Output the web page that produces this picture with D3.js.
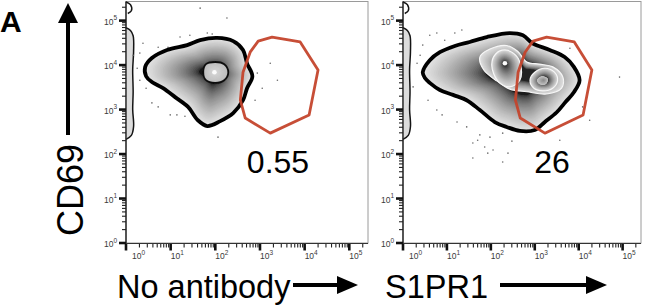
<!DOCTYPE html>
<html><head><meta charset="utf-8">
<script src="https://cdn.jsdelivr.net/npm/d3@7"></script>
<style>body{margin:0;background:#fff;} svg{display:block;font-family:"Liberation Sans", Arial, sans-serif;}</style>
</head><body><svg id="c" width="647" height="308"></svg>
<script>
// ---------- data (all vertices are [log10 X, log10 Y]) ----------
const axisMax = 262144;
const decades = [0, 1, 2, 3, 4, 5];
const panelTitles = ["No antibody", "S1PR1"];
const gatePercents = ["0.55", "26"];
const yTitle = "CD69";
const panelLetter = "A";

const gate = [[2.96,4.54],[3.27,4.63],[3.90,4.52],[4.30,3.89],[4.10,2.88],[3.23,2.47],[2.67,2.81],[2.56,3.21],[2.62,3.84],[2.78,4.29]];

const leftOuter = [[0.43,3.96],[0.58,4.16],[0.92,4.34],[1.37,4.45],[1.66,4.56],[2.04,4.61],[2.40,4.54],[2.62,4.34],[2.71,4.04],[2.83,3.75],[2.71,3.48],[2.62,3.21],[2.40,2.92],[2.11,2.74],[1.82,2.63],[1.61,2.76],[1.39,3.06],[1.10,3.28],[0.83,3.48],[0.58,3.62],[0.45,3.75]];
const leftInner = [[1.73,3.84],[1.79,4.02],[2.00,4.07],[2.20,4.02],[2.29,3.84],[2.20,3.66],[2.00,3.60],[1.79,3.66]];
const leftPeak = [1.98, 3.84];

const rightOuter = [[0.45,3.84],[0.61,4.11],[0.84,4.29],[1.18,4.43],[1.52,4.52],[1.91,4.63],[2.43,4.72],[2.73,4.67],[2.95,4.49],[3.34,4.34],[3.68,4.18],[3.89,3.96],[4.02,3.66],[3.89,3.39],[3.70,3.17],[3.50,2.94],[3.23,2.72],[3.00,2.54],[2.66,2.52],[2.36,2.61],[2.09,2.72],[1.75,2.99],[1.45,3.21],[1.14,3.33],[0.84,3.44],[0.61,3.60],[0.50,3.71]];
const rightMid = [[1.75,4.18],[1.98,4.36],[2.36,4.44],[2.61,4.31],[2.82,4.07],[3.11,4.02],[3.41,3.96],[3.64,3.73],[3.61,3.48],[3.27,3.35],[2.82,3.40],[2.43,3.46],[2.14,3.64],[1.84,3.89]];
const rightPeakA = [[2.32,4.34],[2.57,4.22],[2.68,4.00],[2.66,3.66],[2.43,3.51],[2.16,3.64],[2.02,4.00],[2.11,4.25]];
const rightPeakB = [[2.89,3.66],[3.00,3.84],[3.23,3.93],[3.45,3.84],[3.52,3.66],[3.41,3.48],[3.18,3.42],[2.98,3.48]];
const rightCoreB = [[3.05,3.66],[3.16,3.75],[3.30,3.69],[3.25,3.57],[3.11,3.57]];
const rightCenter = [2.75, 3.82];
const rightPeakAcenter = [2.32, 4.04];
const rightPeakBcenter = [3.20, 3.66];

const axisPile = [[0.0,4.84],[0.10,4.78],[0.16,4.66],[0.17,4.30],[0.15,3.90],[0.16,3.40],[0.15,3.00],[0.17,2.62],[0.12,2.42],[0.0,2.33]];
const topPile = [[0.0,5.42],[0.10,5.36],[0.12,5.22],[0.04,5.16]];

const dotsLeft = [[1.66,5.28],[2.26,5.06],[0.38,4.49],[0.31,4.27],[0.25,3.93],[0.16,4.22],[0.31,3.66],[0.58,3.15],[0.72,3.06],[0.99,2.88],[1.14,2.88],[1.32,2.85],[0.72,4.40],[0.94,4.40],[1.21,4.63],[1.43,4.67],[1.82,4.72],[1.93,4.70],[2.06,2.38],[2.94,3.82],[3.05,3.48],[3.23,4.04],[3.39,3.66],[2.89,3.21],[0.45,3.48]];
const dotsRight = [[0.61,4.67],[0.77,4.72],[0.45,4.45],[0.39,4.22],[0.32,4.04],[0.23,3.51],[0.57,3.21],[0.77,2.99],[0.89,2.88],[1.23,2.72],[1.45,2.61],[1.75,2.43],[1.98,2.38],[2.27,2.47],[1.59,2.25],[1.70,2.31],[1.86,2.16],[2.05,2.09],[2.27,1.82],[2.39,2.02],[1.59,1.91],[1.93,2.02],[4.93,3.73],[3.80,4.38],[4.09,3.06],[1.18,4.72],[1.34,4.79],[0.95,4.56],[4.25,2.76],[2.48,2.29],[3.57,2.31]];

// ---------- drawing ----------
const svg = d3.select("#c");
const defs = svg.append("defs");
defs.append("filter").attr("id","soft").attr("x","-10%").attr("y","-10%").attr("width","120%").attr("height","120%")
  .append("feGaussianBlur").attr("stdDeviation",0.45);

const y = d3.scaleLog().domain([1, axisMax]).range([243, 2]);
const panels = [
  {x: d3.scaleLog().domain([1, axisMax]).range([126, 368]), dots: dotsLeft, title: panelTitles[0], pct: gatePercents[0],
   bands: [
     {pts: leftOuter, c: leftPeak, t0: 0.22, light: "#e4e4e4", dark: "#141414", gamma: 0.55, stroke: "#050505", sw: 3.8},
     {pts: leftInner, c: leftPeak, t0: 0.0, light: "#bdbdbd", dark: "#d8d8d8", gamma: 1, stroke: "#111", sw: 1.8}
   ],
   whiteDots: [leftPeak], pctX: 278, titleX: 117},
  {x: d3.scaleLog().domain([1, axisMax]).range([403, 641]), dots: dotsRight, title: panelTitles[1], pct: gatePercents[1],
   bands: [
     {pts: rightOuter, c: rightCenter, t0: 0.38, light: "#e4e4e4", dark: "#1a1a1a", gamma: 0.55, stroke: "#050505", sw: 3.8},
     {pts: rightMid, c: rightCenter, t0: 0.42, light: "#dedede", dark: "#222", gamma: 0.6, stroke: "#f6f6f6", sw: 1.2},
     {pts: rightPeakA, c: rightPeakAcenter, t0: 0.12, light: "#dadada", dark: "#2a2a2a", gamma: 0.7, stroke: "#f6f6f6", sw: 1.2},
     {pts: rightPeakB, c: rightPeakBcenter, t0: 0.35, light: "#dadada", dark: "#3a3a3a", gamma: 0.7, stroke: "#f6f6f6", sw: 1.1},
     {pts: rightCoreB, c: rightPeakBcenter, t0: 0.0, light: "#c4c4c4", dark: "#8a8a8a", gamma: 1, stroke: "none", sw: 0}
   ],
   whiteDots: [rightPeakAcenter], pctX: 552, titleX: 385}
];

const smooth = d3.line().curve(d3.curveCatmullRomClosed.alpha(0.5));
const smoothOpen = d3.line().curve(d3.curveCatmullRom.alpha(0.5));
const straight = d3.line().curve(d3.curveLinearClosed);
const v = e => Math.pow(10, e);

panels.forEach(p => {
  const X = p.x;
  const px = d => [X(v(d[0])), y(v(d[1]))];
  const [x0, x1] = X.range();
  const g = svg.append("g");

  // frame
  g.append("rect").attr("x", x0).attr("y", 1.5).attr("width", x1 - x0).attr("height", 243 - 1.5)
    .attr("fill", "none").attr("stroke", "#9a9a9a").attr("stroke-width", 1);

  // axis-piled events
  g.append("path").attr("d", smoothOpen(axisPile.map(px)) ).attr("fill", "#dcdcdc").attr("stroke", "#151515").attr("stroke-width", 1.5);
  g.append("path").attr("d", smoothOpen(topPile.map(px))).attr("fill", "none").attr("stroke", "#151515").attr("stroke-width", 1.5);

  // scattered events
  g.selectAll("circle.dot").data(p.dots).join("circle").attr("class","dot")
    .attr("cx", d => X(v(d[0]))).attr("cy", d => y(v(d[1]))).attr("r", 0.8).attr("fill", "#6a6a6a");

  // zebra density bands
  const blob = g.append("g").attr("filter", "url(#soft)");
  p.bands.forEach(b => {
    const d = smooth(b.pts.map(px));
    const [cx, cy] = px(b.c);
    const steps = 34;
    const col = d3.interpolateRgb(b.dark, b.light);
    for (let i = 0; i < steps; i++) {
      const t = 1 - i * (1 - b.t0) / (steps - 1);
      const u = (t - b.t0) / (1 - b.t0);
      const s = Math.max(t, 0.02);
      blob.append("path").attr("d", d)
        .attr("transform", `translate(${cx},${cy}) scale(${s}) translate(${-cx},${-cy})`)
        .attr("fill", col(Math.pow(Math.max(u,0), b.gamma)));
    }
    if (b.stroke !== "none") {
      blob.append("path").attr("d", d).attr("fill", "none").attr("stroke", b.stroke)
        .attr("stroke-width", b.sw).attr("stroke-linejoin", "round");
    }
  });
  p.whiteDots.forEach(c => {
    blob.append("circle").attr("cx", X(v(c[0]))).attr("cy", y(v(c[1]))).attr("r", 2.3).attr("fill", "#fbfbfb");
  });

  // gate
  g.append("path").attr("d", straight(gate.map(px))).attr("fill", "none")
    .attr("stroke", "#c4442c").attr("stroke-width", 2.8).attr("stroke-linejoin", "round").attr("opacity", 0.95);

  // axes lines
  g.append("line").attr("x1", x0).attr("x2", x0).attr("y1", 1.5).attr("y2", 244).attr("stroke", "#222").attr("stroke-width", 1.4);
  g.append("line").attr("x1", x0).attr("x2", x1).attr("y1", 243.5).attr("y2", 243.5).attr("stroke", "#333").attr("stroke-width", 1.2);

  // ticks
  const minor = [];
  decades.forEach(k => { for (let m = 2; m <= 9; m++) { const val = m * Math.pow(10, k); if (val <= axisMax) minor.push(val); } });
  const major = decades.map(k => Math.pow(10, k));
  g.selectAll("line.xmin").data(minor).join("line").attr("class","xmin")
    .attr("x1", d => X(d)).attr("x2", d => X(d)).attr("y1", 244).attr("y2", 247.5).attr("stroke", "#222").attr("stroke-width", 1.1);
  g.selectAll("line.xmaj").data(major).join("line").attr("class","xmaj")
    .attr("x1", d => X(d)).attr("x2", d => X(d)).attr("y1", 244).attr("y2", 250.5).attr("stroke", "#111").attr("stroke-width", 2.6);
  g.selectAll("line.ymin").data(minor).join("line").attr("class","ymin")
    .attr("y1", d => y(d)).attr("y2", d => y(d)).attr("x1", x0 - 4).attr("x2", x0).attr("stroke", "#222").attr("stroke-width", 1.1);
  g.selectAll("line.ymaj").data(major).join("line").attr("class","ymaj")
    .attr("y1", d => y(d)).attr("y2", d => y(d)).attr("x1", x0 - 7).attr("x2", x0).attr("stroke", "#111").attr("stroke-width", 2.6);

  // tick labels
  decades.forEach(k => {
    const tx = g.append("text").attr("x", X(Math.pow(10, k)) + (k === 0 ? 6 : 0)).attr("y", 259)
      .attr("font-size", 8.5).attr("fill", "#3a3a3a");
    tx.append("tspan").text("10");
    tx.append("tspan").attr("dy", -4.5).attr("font-size", 6.5).text(String(k));
    const ty = g.append("text").attr("x", x0 - 9).attr("y", y(Math.pow(10, k)) + 4).attr("text-anchor", "end")
      .attr("font-size", 8.5).attr("fill", "#3a3a3a");
    ty.append("tspan").text("10");
    ty.append("tspan").attr("dy", -4.5).attr("font-size", 6.5).text(String(k));
  });

  // gate percentage
  g.append("text").attr("x", p.pctX).attr("y", 173).attr("text-anchor", "middle").attr("font-size", 32).attr("fill", "#000").text(p.pct);

  // x title
  g.append("text").attr("x", p.titleX).attr("y", 298).attr("font-size", 32.5).attr("fill", "#000").text(p.title);
});

// arrows
const arrowG = svg.append("g").attr("fill", "#000").attr("stroke", "#000");
function hArrow(xa, xb, yy) {
  arrowG.append("line").attr("x1", xa).attr("x2", xb - 18).attr("y1", yy).attr("y2", yy).attr("stroke-width", 4);
  arrowG.append("path").attr("stroke", "none").attr("d", `M${xb - 21},${yy - 9}L${xb},${yy}L${xb - 21},${yy + 9}Z`);
}
hArrow(293, 358, 285);
hArrow(500, 607, 285);
arrowG.append("line").attr("x1", 68).attr("x2", 68).attr("y1", 135).attr("y2", 20).attr("stroke-width", 4);
arrowG.append("path").attr("stroke", "none").attr("d", "M58,23L68,3L78,23Z");

svg.append("text").attr("transform", "translate(83,190) rotate(-90)").attr("text-anchor", "middle")
  .attr("font-size", 36).attr("fill", "#000").text(yTitle);
svg.append("text").attr("x", 0).attr("y", 32).attr("font-size", 30).attr("font-weight", "bold").attr("fill", "#000").text(panelLetter);
</script>
</body></html>
